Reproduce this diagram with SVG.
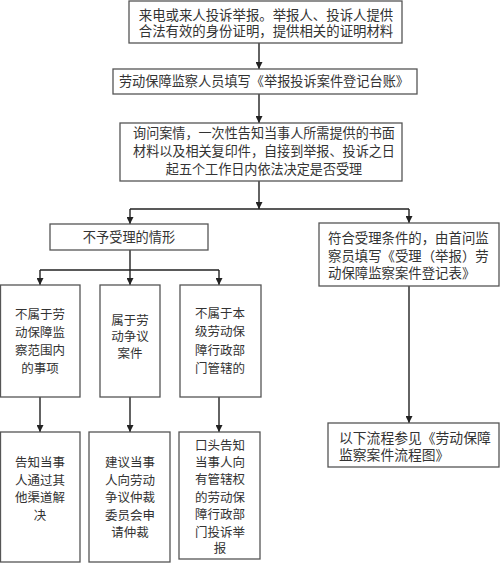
<svg xmlns="http://www.w3.org/2000/svg" width="500" height="563" viewBox="0 0 500 563">
<defs>
<marker id="arr" markerUnits="userSpaceOnUse" markerWidth="8" markerHeight="7" refX="7" refY="3.5" orient="auto">
<path d="M0,0 L7,3.5 L0,7 z" fill="#222"/>
</marker>
<style>
rect{fill:#fff;stroke:#555;stroke-width:1.3}
text{font-family:"Noto Sans CJK SC","Noto Sans CJK TC",sans-serif;fill:#333}
.m{text-anchor:middle}
.s{font-size:12.5px}
.c line, .c polyline{stroke:#222;stroke-width:1.4;fill:none}
.a{marker-end:url(#arr)}
</style>
</defs>
<rect x="0" y="0" width="500" height="563" style="fill:#fff;stroke:none"/>
<g class="c" id="connectors">
<line class="a" x1="259" y1="43" x2="259" y2="69"/>
<line class="a" x1="259" y1="94" x2="259" y2="123"/>
<line class="a" x1="259" y1="181" x2="259" y2="209"/>
<line x1="130" y1="209" x2="409" y2="209"/>
<line class="a" x1="130" y1="209" x2="130" y2="224"/>
<line class="a" x1="409" y1="209" x2="409" y2="223"/>
<line x1="130" y1="250" x2="130" y2="270"/>
<line x1="40" y1="270" x2="219" y2="270"/>
<line class="a" x1="40" y1="270" x2="40" y2="285"/>
<line class="a" x1="130" y1="270" x2="130" y2="285"/>
<line class="a" x1="219" y1="270" x2="219" y2="285"/>
<line class="a" x1="40" y1="397" x2="40" y2="432"/>
<line class="a" x1="130" y1="397" x2="130" y2="432"/>
<line class="a" x1="219" y1="397" x2="219" y2="432"/>
<line class="a" x1="409" y1="286" x2="409" y2="423"/>
</g>
<g id="n1">
<rect x="129" y="1" width="273" height="42"/>
<text class="m" x="266" y="20" style="font-size:13.4px">来电或来人投诉举报。举报人、投诉人提供</text>
<text class="m" x="266" y="36" style="font-size:13.4px">合法有效的身份证明，提供相关的证明材料</text>
</g>
<g id="n2">
<rect x="113" y="69" width="304" height="25"/>
<text class="m" x="264" y="86" style="font-size:13.2px">劳动保障监察人员填写《举报投诉案件登记台账》</text>
</g>
<g id="n3">
<rect x="120" y="123" width="282" height="58"/>
<text class="m" x="264" y="138" style="font-size:13.1px">询问案情，一次性告知当事人所需提供的书面</text>
<text class="m" x="264" y="156" style="font-size:13.1px">材料以及相关复印件，自接到举报、投诉之日</text>
<text class="m" x="264" y="174" style="font-size:13.1px">起五个工作日内依法决定是否受理</text>
</g>
<g id="n4">
<rect x="50" y="224" width="158" height="26"/>
<text class="m" x="129" y="241.5" style="font-size:13.2px">不予受理的情形</text>
</g>
<g id="n5">
<rect x="319" y="223" width="180" height="63"/>
<text x="328" y="243" style="font-size:13.4px">符合受理条件的，由首问监</text>
<text x="328" y="261" style="font-size:13.4px">察员填写《受理（举报）劳</text>
<text x="328" y="278" style="font-size:13.4px">动保障监察案件登记表》</text>
</g>
<g id="n6">
<rect x="0.5" y="285" width="79.5" height="112"/>
<text class="m s" x="40" y="318.5">不属于劳</text>
<text class="m s" x="40" y="336.5">动保障监</text>
<text class="m s" x="40" y="354.5">察范围内</text>
<text class="m s" x="40" y="372.5">的事项</text>
</g>
<g id="n7">
<rect x="100" y="285" width="60" height="112"/>
<text class="m s" x="130" y="324.5">属于劳</text>
<text class="m s" x="130" y="341">动争议</text>
<text class="m s" x="130" y="357.5">案件</text>
</g>
<g id="n8">
<rect x="180" y="285" width="81" height="112"/>
<text class="m s" x="220" y="317.5">不属于本</text>
<text class="m s" x="220" y="336">级劳动保</text>
<text class="m s" x="220" y="354.5">障行政部</text>
<text class="m s" x="220" y="372.5">门管辖的</text>
</g>
<g id="n9">
<rect x="0.5" y="432" width="79.5" height="130"/>
<text class="m s" x="40" y="466.5">告知当事</text>
<text class="m s" x="40" y="484.5">人通过其</text>
<text class="m s" x="40" y="501.5">他渠道解</text>
<text class="m s" x="40" y="519.5">决</text>
</g>
<g id="n10">
<rect x="89" y="432" width="81" height="130"/>
<text class="m s" x="130" y="466.5">建议当事</text>
<text class="m s" x="130" y="484.5">人向劳动</text>
<text class="m s" x="130" y="501.5">争议仲裁</text>
<text class="m s" x="130" y="519.5">委员会申</text>
<text class="m s" x="130" y="536.5">请仲裁</text>
</g>
<g id="n11">
<rect x="179" y="432" width="81" height="127"/>
<text class="m s" x="220" y="449.5">口头告知</text>
<text class="m s" x="220" y="466.5">当事人向</text>
<text class="m s" x="220" y="484">有管辖权</text>
<text class="m s" x="220" y="501.5">的劳动保</text>
<text class="m s" x="220" y="519">障行政部</text>
<text class="m s" x="220" y="536.5">门投诉举</text>
<text class="m s" x="220" y="553">报</text>
</g>
<g id="n12">
<rect x="328" y="423" width="171" height="44"/>
<text x="339" y="443" style="font-size:13.8px">以下流程参见《劳动保障</text>
<text x="339" y="460" style="font-size:13.8px">监察案件流程图》</text>
</g>
</svg>
